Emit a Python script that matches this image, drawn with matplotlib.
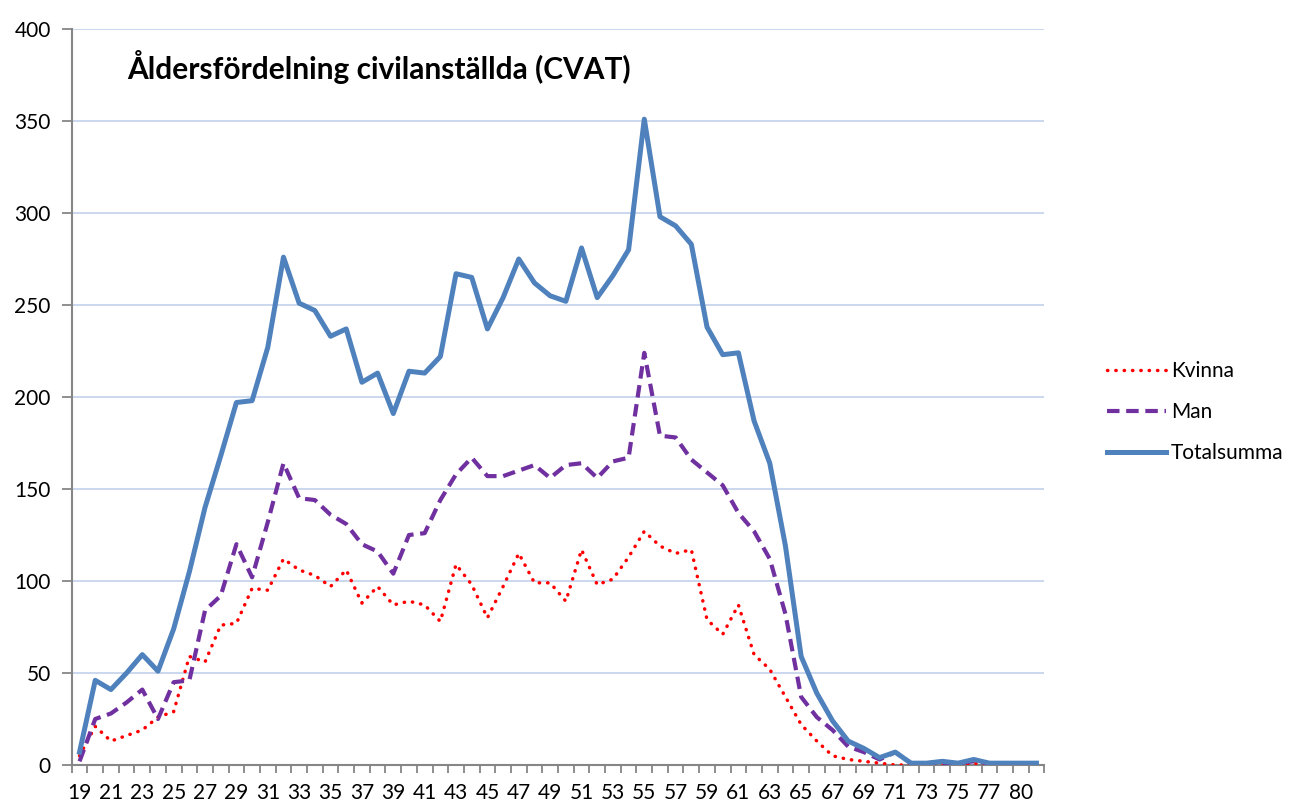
import matplotlib
matplotlib.use("Agg")
import matplotlib.pyplot as plt
import numpy as np

ages = list(range(19, 79)) + [80, 81]
kvinna = [5, 21, 13, 16, 19, 26, 29, 59, 56, 76, 77, 96, 95, 112, 106, 103, 97, 106, 88, 97,
          87, 89, 87, 78, 109, 98, 80, 97, 115, 99, 99, 89, 117, 98, 101, 113, 127, 119, 115, 117,
          79, 71, 87, 60, 52, 37, 22, 13, 5, 3, 2, 1, 0, 0, 0, 1, 0, 1, 0, 0, 0, 0]
man = [2, 25, 28, 34, 41, 25, 45, 46, 84, 92, 120, 102, 132, 164, 145, 144, 136, 131, 120, 116,
       104, 125, 126, 144, 158, 167, 157, 157, 160, 163, 156, 163, 164, 156, 165, 167, 224, 179, 178, 166,
       159, 152, 137, 127, 112, 82, 37, 26, 19, 10, 7, 3, 7, 1, 1, 1, 1, 2, 1, 1, 1, 1]
total = [7, 46, 41, 50, 60, 51, 74, 105, 140, 168, 197, 198, 227, 276, 251, 247, 233, 237, 208, 213,
         191, 214, 213, 222, 267, 265, 237, 254, 275, 262, 255, 252, 281, 254, 266, 280, 351, 298, 293, 283,
         238, 223, 224, 187, 164, 119, 59, 39, 24, 13, 9, 4, 7, 1, 1, 2, 1, 3, 1, 1, 1, 1]
series_names = ["Kvinna", "Man", "Totalsumma"]
title = "Åldersfördelning civilanställda (CVAT)"

plt.rcParams['font.family'] = ['Lato', 'DejaVu Sans']

fig = plt.figure(figsize=(12.92, 8.05), dpi=100)
ax = fig.add_axes([71.7/1292, 1-765/805, (1044.3-71.7)/1292, (765-29)/805])

x = np.arange(len(ages))
ax.plot(x, kvinna, color='#FF0000', lw=2.5, linestyle=(0, (0.1, 2.3)),
        dash_capstyle='round', label=series_names[0], zorder=3)
ax.plot(x, man, color='#7030A0', lw=3.0, linestyle=(0, (3.0, 1.6)),
        label=series_names[1], zorder=4)
ax.plot(x, total, color='#4F81BD', lw=3.6, solid_joinstyle='round',
        label=series_names[2], zorder=5)

ax.set_xlim(-0.5, len(ages) - 0.5)
ax.set_ylim(0, 400)
ax.set_yticks(np.arange(0, 401, 50))
ax.yaxis.grid(True, color='#C6D4EC', lw=1.3)
ax.set_axisbelow(True)

ax.set_xticks(x[::2])
ax.set_xticklabels([str(a) for a in ages[::2]])
ax.set_xticks(np.arange(-0.5, len(ages), 1), minor=True)
ax.tick_params(axis='x', which='major', length=0, pad=13, labelsize=15, colors='black')
ax.tick_params(axis='x', which='minor', length=6, width=1.3, color='#868686', direction='out')
ax.tick_params(axis='y', which='major', length=7, width=1.3, color='#868686', labelsize=15, pad=8)

for s in ['top', 'right']:
    ax.spines[s].set_visible(False)
for s in ['left', 'bottom']:
    ax.spines[s].set_color('#868686')
    ax.spines[s].set_linewidth(1.5)

ax.text(127/1292, 1-67/805, title, transform=fig.transFigure, fontsize=21.5,
        fontweight='bold', va='center', ha='left')

fig.legend(loc='center left', bbox_to_anchor=(1099/1292, 1-412/805), frameon=False,
           borderaxespad=0, fontsize=15, handlelength=2.8, labelspacing=1.0, handletextpad=0.25)

fig.savefig('out.png', dpi=100)
